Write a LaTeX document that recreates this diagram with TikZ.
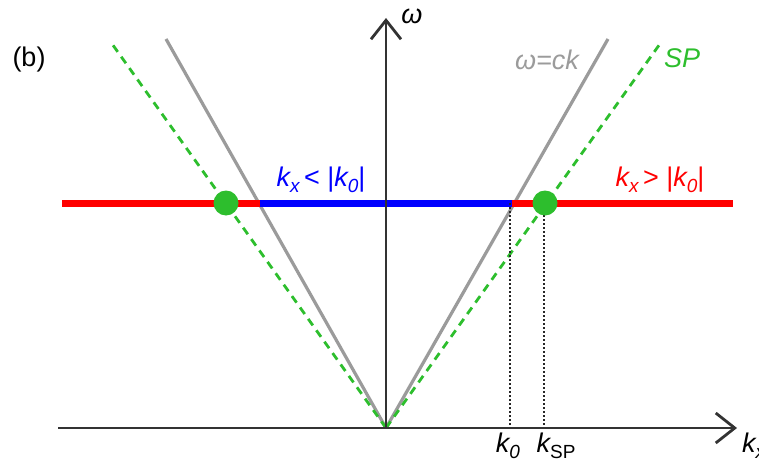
\documentclass[tikz,border=0pt]{standalone}
\usepackage{fontspec}
\setmainfont{Liberation Sans}
\usetikzlibrary{arrows.meta}
\definecolor{lightline}{RGB}{155,155,155}
\definecolor{spgreen}{RGB}{45,190,45}
\newcommand{\lo}[1]{\raisebox{-0.45ex}{\fontsize{19}{19}\selectfont #1}}
\tikzset{
  axis/.style={line width=2.8pt, black!80, -{Straight Barb[length=19pt,width=30pt,line width=2.8pt]}},
  light/.style={line width=3.2pt, lightline},
  spline/.style={line width=2.8pt, spgreen, dash pattern=on 8pt off 6pt},
  band/.style={line width=7pt},
  guide/.style={line width=2.4pt, black!85, dash pattern=on 2pt off 2pt},
  dot/.style={fill=spgreen}
}
\begin{document}
\begin{tikzpicture}[x=1pt, y=-1pt, font=\fontsize{27}{31}\selectfont, line join=round]
  \useasboundingbox (0,0) rectangle (759,465);
  % points
  \coordinate (O) at (386,428);
  \coordinate (ckL) at (166,39);
  \coordinate (ckR) at (608,39);
  \coordinate (spL) at (110,41);
  \coordinate (spR) at (662,41);
  \coordinate (hL) at (62,203);
  \coordinate (hR) at (733,203);
  \coordinate (bL) at (260,203);
  \coordinate (bR) at (512,203);
  \coordinate (k0) at (510,203);
  \coordinate (k0b) at (510,428);
  \coordinate (ksp) at (544,203);
  \coordinate (kspb) at (544,428);
  \coordinate (xL) at (58,428);
  \coordinate (xR) at (737,428);
  \coordinate (yT) at (386,18);
  % light cone and SP lines
  \draw[light] (O) -- (ckL);
  \draw[light] (O) -- (ckR);
  \draw[spline] (O) -- (spL);
  \draw[spline] (O) -- (spR);
  % frequency line
  \draw[band, red] (hL) -- (hR);
  \draw[band, blue] (bL) -- (bR);
  \draw[guide] (k0) -- (k0b);
  \draw[guide] (ksp) -- (kspb);
  \fill[dot] (226,203) circle (12.5);
  \fill[dot] (545,203) circle (12.5);
  % axes
  \draw[axis] (xL) -- (xR);
  \draw[axis] (O) -- (yT);
  % labels
  \node at (29,60) {(b)};
  \node at (412,16) {\itshape ω};
  \node[lightline] at (547,60) {\itshape ω=ck};
  \node[spgreen] at (682,58) {\itshape SP};
  \node[blue] at (321,180) {\itshape k\lo{x}\upshape\,< |\itshape k\lo{0}\upshape|};
  \node[red] at (660,180) {\itshape k\lo{x}\upshape\,> |\itshape k\lo{0}\upshape|};
  \node at (508,446) {\itshape k\lo{0}};
  \node at (556,446) {\itshape k\lo{\upshape SP}};
  \node[anchor=west, inner sep=0pt] at (742,446) {\itshape k\lo{x}};
\end{tikzpicture}
\end{document}
